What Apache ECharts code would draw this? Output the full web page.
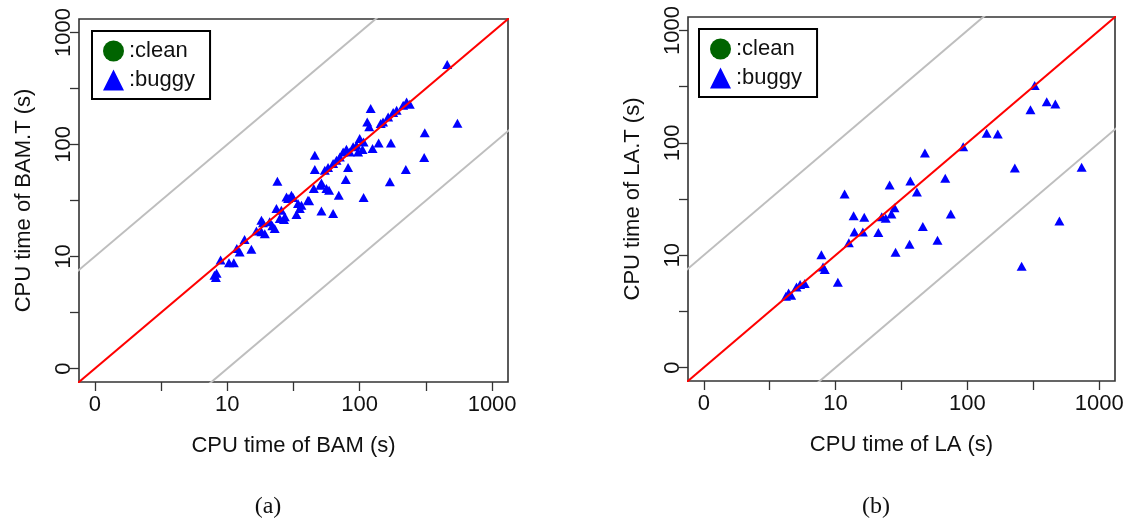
<!DOCTYPE html>
<html><head><meta charset="utf-8">
<script src="https://cdn.jsdelivr.net/npm/echarts@6/dist/echarts.min.js"></script>
<style>html,body{margin:0;padding:0;background:#fff}#c{width:1134px;height:525px}</style>
</head><body><div id="c"></div>
<script>
// Panel (a): CPU time of BAM vs BAM.T (seconds)
const bamTime  = [8.0,8.2,8.3,8.9,10.3,11.2,12.4,11.8,13.5,15.2,16.6,18.1,18.1,18.6,19.2,20.9,21.9,22.8,23.5,25.6,23.9,24.9,26.8,27.2,28.0,28.8,30.5,31.4,34.2,33.3,36.3,35.3,41.5,40.7,45.8,45.8,45.0,51.4,50.6,51.4,54.5,57.7,58.7,56.1,63.0,63.0,66.8,70.8,69.5,81.7,78.5,75.0,79.4,84.2,89.2,94.6,97.2,105,100,107,107,125,139,121,114,118,144,150,164,179,190,172,169,213,226,239,223,307,310,547,458];
const bamTTime = [6.8,6.5,7.1,9.3,8.8,8.8,11.0,11.8,14.2,11.6,16.9,21.1,16.6,20.0,16.0,20.4,18.8,17.8,26.8,25.9,47.0,21.8,21.4,22.6,34.0,33.0,35.3,33.6,29.7,23.7,28.7,26.8,31.4,31.8,80.2,59.8,40.5,25.5,43.3,45.4,59.0,62.3,39.1,40.5,24.2,67.6,72.4,77.5,35.3,62.3,48.7,85.9,90.8,85.9,95.2,98.6,85.9,90.2,113,105,33.6,92.1,103,210,159,144,154,159,176,193,202,103,46.4,224,240,229,59.8,76.6,127,155,518];
// Panel (b): CPU time of LA vs LA.T (seconds)
const laTime  = [4.2,4.4,4.6,5.05,5.38,5.83,7.8,8.03,8.27,10.4,11.7,12.6,13.7,13.9,16.1,16.5,21.1,22.4,24,25.7,26.5,28,28.5,36.4,36.9,41.4,45.9,47.6,59.3,67.9,74.8,92.9,140,170,229,258,301,324,400,465,499,736];
const laTTime = [4.3,4.6,4.4,5.21,5.48,5.59,10.1,7.86,7.45,5.74,35.1,12.9,22.4,16.1,16.1,21.8,15.9,22,21.3,42.2,23.2,26.4,10.6,12.5,45.8,36.5,18,81,13.6,48.4,23.2,92.1,122,120,59.8,7.98,197,323,232,222,20.1,60.7];
// Axis ticks (decade exponents) and their printed labels
const tickExp    = [0,1,2,3];
const tickLabels = ['0','10','100','1000'];
const minorTickExp = [0,0.5,1,1.5,2,2.5,3];
// Reference lines: y = r * x
const refRatios = [10, 0.1, 1];
const legendNames = ['clean','buggy'];
const axisNames = {a:['CPU time of BAM (s)','CPU time of BAM.T (s)'], b:['CPU time of LA (s)','CPU time of LA.T (s)']};

const AX_MIN = -0.12, AX_MAX = 3.12;
const FONT = '"Liberation Sans", Arial, sans-serif';
const TXT = '#111';
const lg = v => Math.log10(v);
const labelFor = v => { const i = tickExp.indexOf(Math.round(v)); return i >= 0 ? tickLabels[i] : ''; };

function mkX(gi, name){
  return {type:'value', gridIndex:gi, min:AX_MIN, max:AX_MAX, position:'bottom',
    name:name, nameLocation:'middle', nameGap:53,
    nameTextStyle:{fontSize:22, color:TXT, fontFamily:FONT},
    axisLine:{show:false, onZero:false},
    axisTick:{show:true, inside:false, length:9, customValues:minorTickExp, lineStyle:{color:'#333', width:1.3}},
    axisLabel:{customValues:tickExp, formatter:labelFor, fontSize:22, color:TXT, fontFamily:FONT, margin:12},
    splitLine:{show:false}};
}
function mkY(gi, name){
  return {type:'value', gridIndex:gi, min:AX_MIN, max:AX_MAX, position:'left',
    name:name, nameLocation:'middle', nameGap:44,
    nameTextStyle:{fontSize:22, color:TXT, fontFamily:FONT},
    axisLine:{show:false, onZero:false},
    axisTick:{show:true, inside:false, length:9, customValues:minorTickExp, lineStyle:{color:'#333', width:1.3}},
    axisLabel:{customValues:tickExp, formatter:labelFor, rotate:90, fontSize:22, color:TXT, fontFamily:FONT, margin:4},
    splitLine:{show:false}};
}
function mkLegend(left, top){
  return {left:left, top:top, orient:'vertical', selectedMode:false,
    data:[{name:legendNames[0], icon:'circle'},{name:legendNames[1], icon:'triangle'}],
    formatter: n => ':' + n,
    itemWidth:21, itemHeight:21, itemGap:5,
    padding:[8,15,7,11], borderColor:'#000', borderWidth:2, backgroundColor:'#fff',
    textStyle:{fontSize:22, color:TXT, fontFamily:FONT, lineHeight:24}};
}
function panelSeries(gi, xs, ys){
  const out = [];
  out.push({name:'buggy', type:'scatter', xAxisIndex:gi, yAxisIndex:gi, symbol:'triangle', symbolSize:[10,9],
    itemStyle:{color:'#0000ff', opacity:1}, data: xs.map((x,i)=>[lg(x), lg(ys[i])]), z:3});
  out.push({name:'clean', type:'scatter', xAxisIndex:gi, yAxisIndex:gi, symbol:'circle', symbolSize:10,
    itemStyle:{color:'#006400', opacity:1}, data:[], z:3});
  refRatios.forEach(r => {
    const o = lg(r);
    out.push({type:'line', xAxisIndex:gi, yAxisIndex:gi, silent:true, symbol:'none', clip:true,
      lineStyle:{color: r === 1 ? '#ff0000' : '#bebebe', width:2},
      data:[[AX_MIN-2, AX_MIN-2+o],[AX_MAX+2, AX_MAX+2+o]], z: r === 1 ? 5 : 4});
  });
  return out;
}

const chart = echarts.init(document.getElementById('c'), null, {renderer:'canvas'});
chart.setOption({
  animation:false,
  backgroundColor:'#fff',
  grid:[
    {left:79, top:19, width:429, height:363, show:true, borderColor:'#333', borderWidth:1.6, containLabel:false},
    {left:688, top:17, width:427, height:364, show:true, borderColor:'#333', borderWidth:1.6, containLabel:false}
  ],
  xAxis:[mkX(0, axisNames.a[0]), mkX(1, axisNames.b[0])],
  yAxis:[mkY(0, axisNames.a[1]), mkY(1, axisNames.b[1])],
  legend:[mkLegend(92, 31), mkLegend(699, 29)],
  graphic:[
    {type:'text', x:268, y:507, style:{text:'(a)', font:'24px "Liberation Serif", serif', fill:TXT, align:'center', verticalAlign:'middle'}},
    {type:'text', x:876, y:507, style:{text:'(b)', font:'24px "Liberation Serif", serif', fill:TXT, align:'center', verticalAlign:'middle'}}
  ],
  series:[...panelSeries(0, bamTime, bamTTime), ...panelSeries(1, laTime, laTTime)]
});
</script></body></html>
